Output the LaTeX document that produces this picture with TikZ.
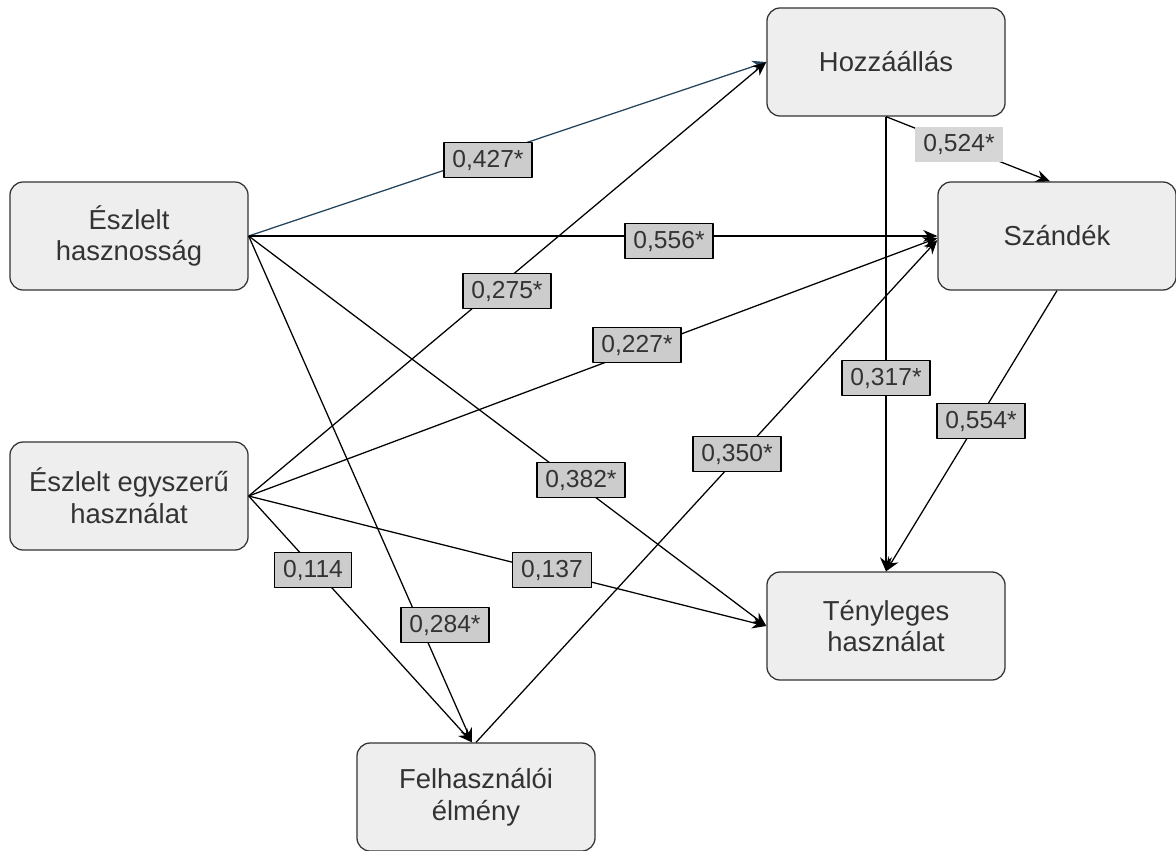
\documentclass[tikz,border=0pt]{standalone}
\usepackage{fontspec}
\setmainfont{Liberation Sans}
\usetikzlibrary{arrows.meta}
\definecolor{boxfill}{HTML}{EEEEEE}
\definecolor{lblfill}{HTML}{CCCCCC}
\definecolor{lblfillb}{HTML}{D6D6D6}
\definecolor{txtgray}{HTML}{333333}
\definecolor{edgeblue}{HTML}{23445D}
\begin{document}
\begin{tikzpicture}[x=0.025cm, y=-0.025cm, line join=round, >={Stealth[length=10pt,width=8.5pt]},
	box/.style={draw=txtgray, fill=boxfill, rounded corners=0.33cm, minimum width=5.95cm, minimum height=2.7cm,
		align=center, text=txtgray, font=\fontsize{19.5pt}{22.5pt}\selectfont, line width=0.9pt},
	lbl/.style={draw=black, fill=lblfill, text=txtgray, font=\fontsize{17.5pt}{20pt}\selectfont,
		inner xsep=6pt, inner ysep=0pt, minimum height=0.875cm, line width=1pt},
	edge/.style={->, line width=0.9pt}]
	\useasboundingbox (0,0) rectangle (1176,850);
	% Konstrukciók
	\node[box] (eh) at (129,236) {Észlelt\\hasznosság};
	\node[box] (eeh) at (129,496) {Észlelt egyszerű\\használat};
	\node[box] (hz) at (886,62) {Hozzáállás};
	\node[box] (sz) at (1057,236) {Szándék};
	\node[box] (ty) at (886,626) {Tényleges\\használat};
	\node[box] (fe) at (476,797) {Felhasználói\\élmény};
	% Utak
	\draw[edge, edgeblue] (eh.east) -- (hz.west);
	\draw[edge] (eh.east) -- (sz.west);
	\draw[edge] (eh.east) -- (ty.west);
	\draw[edge] (eh.east) -- ([xshift=-0.1cm]fe.north);
	\draw[edge] (eeh.east) -- (hz.west);
	\draw[edge] (eeh.east) -- ([yshift=-0.05cm]sz.west);
	\draw[edge] (eeh.east) -- (ty.west);
	\draw[edge] (eeh.east) -- ([xshift=-0.1cm]fe.north);
	\draw[edge] (hz.south) -- (ty.north);
	\draw[edge] (hz.south) -- ([xshift=-0.175cm]sz.north);
	\draw[edge] (sz.south) -- (ty.north);
	\draw[edge] (fe.north) -- ([yshift=-0.1cm]sz.west);
	% Együtthatók
	\node[lbl] (l427) at (488,160) {0,427*};
	\node[lbl] (l556) at (669,241) {0,556*};
	\node[lbl] (l275) at (507,291) {0,275*};
	\node[lbl] (l227) at (637,345) {0,227*};
	\node[lbl] (l382) at (581,480) {0,382*};
	\node[lbl] (l114) at (313,570) {0,114};
	\node[lbl] (l137) at (552,570) {0,137};
	\node[lbl] (l284) at (445,625) {0,284*};
	\node[lbl] (l317) at (886,378) {0,317*};
	\node[lbl] (l554) at (981,421) {0,554*};
	\node[lbl] (l350) at (737,454) {0,350*};
	\node[lbl, draw=none, fill=lblfillb] (l524) at (959,144) {0,524*};
\end{tikzpicture}
\end{document}
